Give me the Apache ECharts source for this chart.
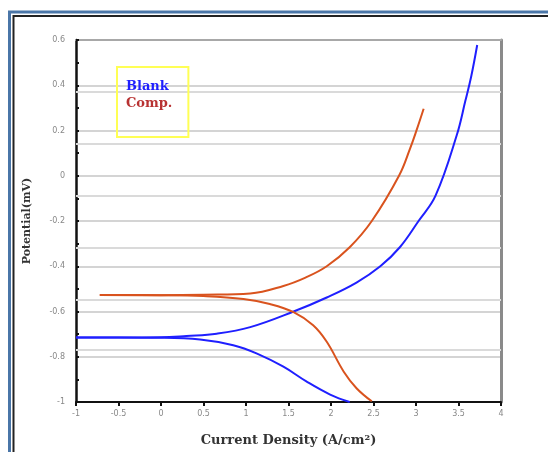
<!DOCTYPE html>
<html>
<head>
<meta charset="utf-8">
<script src="https://cdn.jsdelivr.net/npm/echarts@6/dist/echarts.min.js"></script>
<style>html,body{margin:0;padding:0;background:#fff;}#c{width:548px;height:452px;}</style>
</head>
<body>
<div id="c"></div>
<script>
// Data (x: current density, y: potential)
const blankAnodicX = [-1, -0.5, 0, 0.3, 0.655, 1.05, 1.56, 1.95, 2.30, 2.58, 2.81, 3.03, 3.23, 3.48, 3.58, 3.65, 3.72];
const blankAnodicY = [-0.715, -0.715, -0.714, -0.708, -0.698, -0.669, -0.600, -0.538, -0.472, -0.40, -0.316, -0.20, -0.088, 0.18, 0.33, 0.44, 0.578];
const blankCathodicX = [-1, -0.5, 0, 0.46, 0.85, 1.13, 1.44, 1.71, 1.99, 2.22];
const blankCathodicY = [-0.715, -0.715, -0.716, -0.724, -0.749, -0.786, -0.844, -0.909, -0.967, -1.0];
const compAnodicX = [-0.72, 0, 0.5, 1.05, 1.44, 1.70, 1.95, 2.22, 2.48, 2.80, 2.93, 3.01, 3.09];
const compAnodicY = [-0.527, -0.528, -0.526, -0.52, -0.487, -0.450, -0.40, -0.316, -0.20, 0.0, 0.12, 0.205, 0.296];
const compCathodicX = [-0.72, 0, 0.5, 0.97, 1.28, 1.56, 1.79, 1.95, 2.15, 2.30, 2.48];
const compCathodicY = [-0.527, -0.528, -0.532, -0.545, -0.567, -0.603, -0.661, -0.734, -0.866, -0.939, -0.997];
const seriesNames = ['Blank', 'Comp.'];
const xTicks = [-1, -0.5, 0, 0.5, 1, 1.5, 2, 2.5, 3, 3.5, 4];
const yTicks = [-1, -0.8, -0.6, -0.4, -0.2, 0, 0.2, 0.4, 0.6];
const extraGridY = [0.37, 0.145, -0.086, -0.315, -0.545, -0.77];

const zip = (xs, ys) => xs.map((x, i) => [x, ys[i]]);
const BLUE = '#1f1fff', RED = '#d9531e';

const chart = echarts.init(document.getElementById('c'), null, {renderer: 'canvas'});
const lineSeries = (name, color, data, extra) => Object.assign({
  name: name, type: 'line', data: data, smooth: 0.4, symbol: 'none',
  lineStyle: {color: color, width: 2}, itemStyle: {color: color}, z: 3
}, extra || {});

chart.setOption({
  animation: false,
  grid: {left: 76, right: 47, top: 40, bottom: 46},
  legend: {
    left: 117, top: 67, orient: 'vertical',
    icon: 'none', itemWidth: 0, itemHeight: 14, itemGap: 3,
    padding: [13, 16, 27, 4],
    borderColor: '#ffff55', borderWidth: 2,
    selectedMode: false,
    textStyle: {fontFamily: 'DejaVu Serif', fontWeight: 'bold', fontSize: 13},
    data: [
      {name: seriesNames[0], textStyle: {color: BLUE}},
      {name: seriesNames[1], textStyle: {color: '#b83232'}}
    ]
  },
  xAxis: [{
    type: 'value', min: xTicks[0], max: xTicks[xTicks.length - 1], interval: 0.5,
    name: 'Current Density (A/cm²)', nameLocation: 'middle', nameGap: 32,
    nameTextStyle: {fontFamily: 'DejaVu Serif', fontWeight: 'bold', fontSize: 13, color: '#333'},
    axisLine: {onZero: false, lineStyle: {color: '#111', width: 2}},
    axisTick: {show: true, length: 4, lineStyle: {color: '#111', width: 2}},
    axisLabel: {color: '#888', fontSize: 8, margin: 8, fontFamily: 'DejaVu Sans'},
    splitLine: {show: false}
  }, {
    type: 'value', position: 'top', min: xTicks[0], max: xTicks[xTicks.length - 1],
    axisLine: {show: true, onZero: false, lineStyle: {color: '#a8a8a8', width: 2}},
    axisTick: {show: false}, axisLabel: {show: false}, splitLine: {show: false}
  }],
  yAxis: [{
    type: 'value', min: yTicks[0], max: yTicks[yTicks.length - 1], interval: 0.2,
    name: 'Potential(mV)', nameLocation: 'middle', nameGap: 43,
    nameTextStyle: {fontFamily: 'DejaVu Serif', fontWeight: 'bold', fontSize: 11, color: '#333'},
    axisLine: {show: true, onZero: false, lineStyle: {color: '#111', width: 2.5}},
    axisTick: {show: true, inside: true, length: 3, lineStyle: {color: '#111', width: 2}},
    minorTick: {show: true, splitNumber: 2, length: 3, lineStyle: {color: '#111', width: 2}},
    axisLabel: {color: '#888', fontSize: 8, margin: 11, fontFamily: 'DejaVu Sans'},
    splitLine: {show: true, lineStyle: {color: '#d4d4d4', width: 2}}
  }, {
    type: 'value', position: 'right', min: yTicks[0], max: yTicks[yTicks.length - 1],
    axisLine: {show: true, onZero: false, lineStyle: {color: '#8a8a8a', width: 3}},
    axisTick: {show: false}, axisLabel: {show: false}, splitLine: {show: false}
  }],
  series: [
    lineSeries(seriesNames[0], BLUE, zip(blankAnodicX, blankAnodicY), {
      markLine: {
        silent: true, symbol: 'none', label: {show: false}, z: 1,
        lineStyle: {color: '#dadada', width: 2, type: 'solid'},
        data: extraGridY.map(v => ({yAxis: v}))
      }
    }),
    lineSeries(seriesNames[0], BLUE, zip(blankCathodicX, blankCathodicY)),
    lineSeries(seriesNames[1], RED, zip(compAnodicX, compAnodicY)),
    lineSeries(seriesNames[1], RED, zip(compCathodicX, compCathodicY))
  ],
  graphic: [
    {type: 'polyline', shape: {points: [[9.5, 452], [9.5, 12], [548, 12]]}, style: {stroke: '#4a76a8', lineWidth: 3, fill: null}, silent: true},
    {type: 'polyline', shape: {points: [[13.5, 452], [13.5, 16], [548, 16]]}, style: {stroke: '#222', lineWidth: 2, fill: null}, silent: true}
  ]
});
</script>
</body>
</html>
